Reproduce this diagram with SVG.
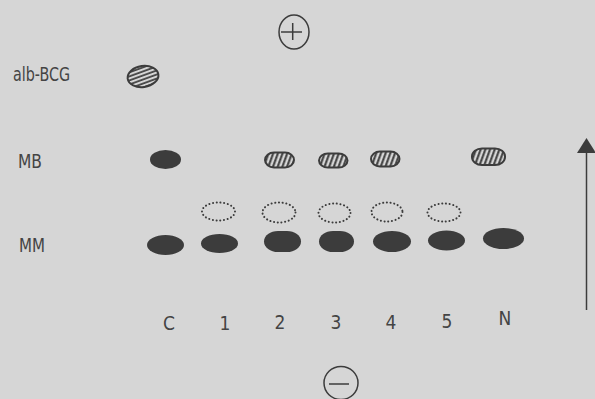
<svg xmlns="http://www.w3.org/2000/svg" width="595" height="399" viewBox="0 0 595 399">
<defs>
<pattern id="hv" patternUnits="userSpaceOnUse" width="4.4" height="10" patternTransform="rotate(20)">
<rect width="4.4" height="10" fill="#d6d6d6"/>
<line x1="1.2" y1="0" x2="1.2" y2="10" stroke="#3c3c3c" stroke-width="2"/>
</pattern>
<pattern id="hh" patternUnits="userSpaceOnUse" width="10" height="3.8" patternTransform="rotate(-12)">
<rect width="10" height="3.8" fill="#d6d6d6"/>
<line x1="0" y1="1" x2="10" y2="1" stroke="#3c3c3c" stroke-width="1.7"/>
</pattern>
</defs>
<style>
text{font-family:"DejaVu Sans Condensed","DejaVu Sans",sans-serif;fill:#444;font-size:19px}
.lane{text-anchor:middle;font-size:19px}
.solid{fill:#3c3c3c}
.hatch{fill:url(#hv);stroke:#3c3c3c;stroke-width:2}
.dot{fill:none;stroke:#3c3c3c;stroke-width:2;stroke-dasharray:0.1 3.6;stroke-linecap:round}
.sym{fill:none;stroke:#3c3c3c;stroke-width:1.5}
</style>
<rect width="595" height="399" fill="#d6d6d6"/>

<g id="plus"><ellipse class="sym" cx="294" cy="32" rx="15" ry="17"/><line class="sym" x1="281" y1="32" x2="302" y2="32"/><line class="sym" x1="292.7" y1="23" x2="292.7" y2="40"/></g>
<g id="minus"><ellipse class="sym" cx="341" cy="383" rx="17" ry="16.5"/><line class="sym" x1="329" y1="384" x2="349" y2="384"/></g>

<g id="row-labels">
<text x="13" y="81" textLength="57" lengthAdjust="spacingAndGlyphs">alb-BCG</text>
<text x="18" y="168" textLength="24" lengthAdjust="spacingAndGlyphs">MB</text>
<text x="19" y="252" textLength="26" lengthAdjust="spacingAndGlyphs">MM</text>
</g>

<g id="lane-labels">
<text class="lane" x="169" y="330">C</text>
<text class="lane" x="225" y="330">1</text>
<text class="lane" x="280" y="329">2</text>
<text class="lane" x="336" y="329">3</text>
<text class="lane" x="391" y="329">4</text>
<text class="lane" x="447" y="328">5</text>
<text class="lane" x="505" y="325">N</text>
</g>

<g id="alb-bcg-band"><ellipse cx="143" cy="76.5" rx="15.5" ry="10.5" fill="url(#hh)" stroke="#3c3c3c" stroke-width="2" transform="rotate(-8 143 76.5)"/></g>

<g id="mb-bands">
<ellipse class="solid" cx="165.5" cy="159.5" rx="15.5" ry="9.5"/>
<rect class="hatch" x="265" y="152.5" width="29" height="15" rx="9" ry="7.5"/>
<rect class="hatch" x="319" y="153.5" width="28.5" height="14" rx="9" ry="7"/>
<rect class="hatch" x="371" y="151.5" width="28.5" height="15" rx="9" ry="7.5"/>
<rect class="hatch" x="472" y="148.5" width="33" height="16.5" rx="10" ry="8"/>
</g>

<g id="faint-bands">
<ellipse class="dot" cx="218.5" cy="211.5" rx="16.5" ry="9"/>
<ellipse class="dot" cx="279" cy="212.5" rx="16.5" ry="10"/>
<ellipse class="dot" cx="334.5" cy="213" rx="16" ry="9.5"/>
<ellipse class="dot" cx="387" cy="212" rx="15.5" ry="9.5"/>
<ellipse class="dot" cx="444" cy="212.5" rx="16.5" ry="9"/>
</g>

<g id="mm-bands">
<ellipse class="solid" cx="165.5" cy="245" rx="18.5" ry="10"/>
<ellipse class="solid" cx="219.5" cy="243.5" rx="18.5" ry="9.5"/>
<rect class="solid" x="264" y="231" width="37" height="21" rx="14" ry="10.5"/>
<rect class="solid" x="319" y="231" width="35" height="21" rx="14" ry="10.5"/>
<ellipse class="solid" cx="392" cy="241.5" rx="19" ry="10.5"/>
<ellipse class="solid" cx="446.5" cy="240.5" rx="18.5" ry="10"/>
<ellipse class="solid" cx="503.5" cy="238.5" rx="20.5" ry="10.5"/>
</g>

<g id="connectors">
<line x1="586.5" y1="150" x2="586.5" y2="310" stroke="#3c3c3c" stroke-width="1.5"/>
<polygon points="586.5,138 577,153 596,153" fill="#3c3c3c"/>
</g>
</svg>
